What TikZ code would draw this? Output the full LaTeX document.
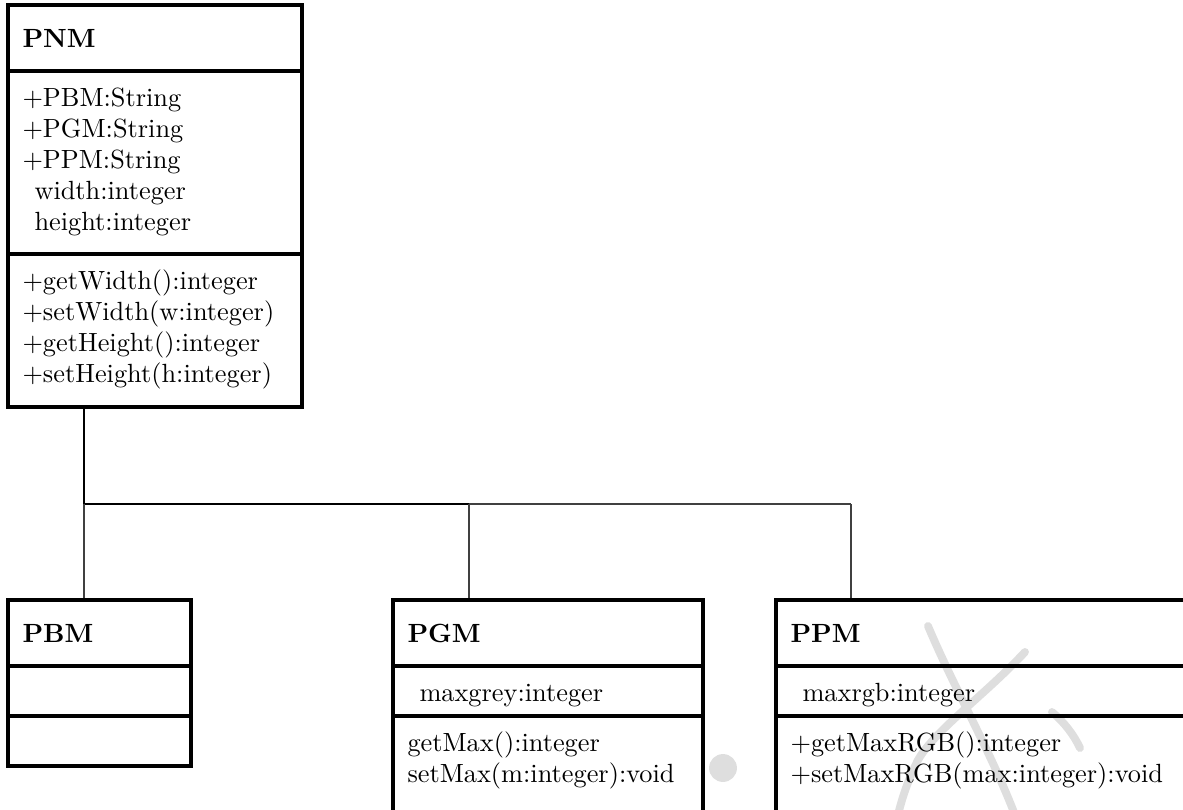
\documentclass[tikz,border=0pt]{standalone}
\usetikzlibrary{fit}
\begin{document}
\begin{tikzpicture}[x=0.38pt,y=-0.38pt,
  boxline/.style={line width=1.2pt},
  classbox/.style={draw,boxline,inner sep=0pt,fit={#1}},
  txt/.style={anchor=base west,inner sep=0pt,font=\fontsize{10}{12}\selectfont},
  ttl/.style={txt,font=\fontsize{10}{12}\selectfont\bfseries},
  mainlink/.style={line width=0.8pt},
  sublink/.style={line width=0.45pt,black!75},
  wm/.style={line width=3pt,black!13,line cap=round}]
\useasboundingbox (0,0) rectangle (1183,809);
\clip (0,0) rectangle (1183,809);

% watermark
\fill[black!13] (723,768) circle[radius=5.3pt];
\draw[wm] (928,626) .. controls (955,690) and (990,750) .. (1015,815);
\draw[wm] (1025,652) .. controls (985,695) and (935,730) .. (918,760) .. controls (908,780) and (902,798) .. (898,815);
\draw[wm] (1052,712) .. controls (1064,722) and (1074,735) .. (1080,748);

% PNM
\node[classbox={(8,5)(302,407)}] (pnm) {};
\draw[boxline] (8,71) -- (302,71);
\draw[boxline] (8,254) -- (302,254);
\node[ttl] (pnmt) at (22,47) {PNM};
\node[txt] (pnma1) at (22,106) {+PBM:String};
\node[txt] (pnma2) at (22,137) {+PGM:String};
\node[txt] (pnma3) at (22,168) {+PPM:String};
\node[txt] (pnma4) at (34,199) {width:integer};
\node[txt] (pnma5) at (34,230) {height:integer};
\node[txt] (pnmm1) at (22,289) {+getWidth():integer};
\node[txt] (pnmm2) at (22,320) {+setWidth(w:integer)};
\node[txt] (pnmm3) at (22,351) {+getHeight():integer};
\node[txt] (pnmm4) at (22,382) {+setHeight(h:integer)};

% PBM
\node[classbox={(8,600)(191,766)}] (pbm) {};
\draw[boxline] (8,666) -- (191,666);
\draw[boxline] (8,716) -- (191,716);
\node[ttl] (pbmt) at (22,642) {PBM};

% PGM
\node[classbox={(393,600)(703,860)}] (pgm) {};
\draw[boxline] (393,666) -- (703,666);
\draw[boxline] (393,716) -- (703,716);
\node[ttl] (pgmt) at (407,642) {PGM};
\node[txt] (pgma1) at (419,701) {maxgrey:integer};
\node[txt] (pgmm1) at (407,751) {getMax():integer};
\node[txt] (pgmm2) at (407,782) {setMax(m:integer):void};

% PPM
\node[classbox={(776,600)(1200,860)}] (ppm) {};
\draw[boxline] (776,666) -- (1200,666);
\draw[boxline] (776,716) -- (1200,716);
\node[ttl] (ppmt) at (790,642) {PPM};
\node[txt] (ppma1) at (802,701) {maxrgb:integer};
\node[txt] (ppmm1) at (790,751) {+getMaxRGB():integer};
\node[txt] (ppmm2) at (790,782) {+setMaxRGB(max:integer):void};

% connectors
\coordinate (j1) at (84,504);
\coordinate (j2) at (469,504);
\coordinate (j3) at (851,504);
\draw[mainlink] (pnm.south -| j1) -- (j1) -- (j2);
\draw[sublink] (j2) -- (j3);
\draw[sublink] (j1) -- (pbm.north -| j1);
\draw[sublink] (j2) -- (pgm.north -| j2);
\draw[sublink] (j3) -- (ppm.north -| j3);
\end{tikzpicture}
\end{document}
